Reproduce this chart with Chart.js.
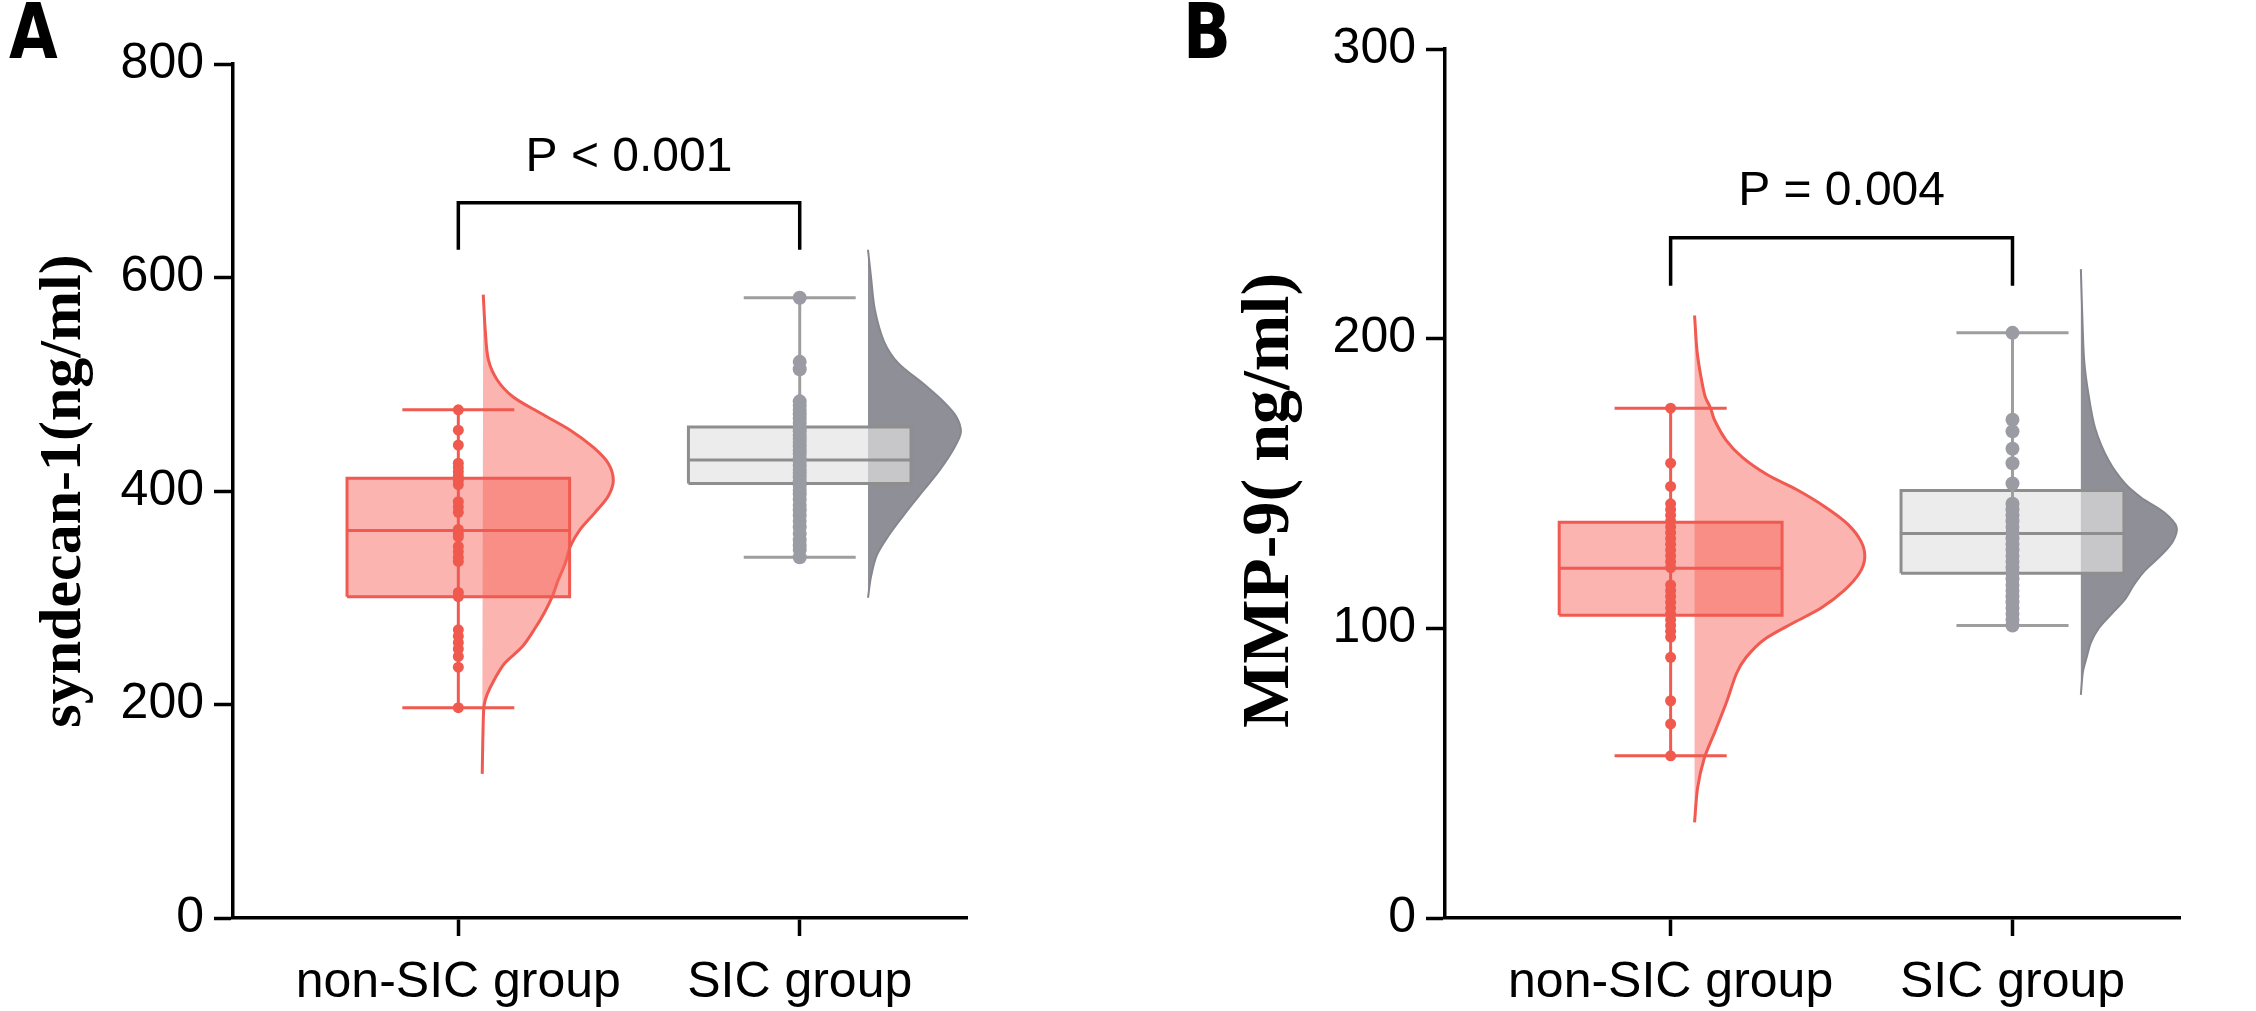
<!DOCTYPE html>
<html><head><meta charset="utf-8">
<script src="https://cdn.jsdelivr.net/npm/chart.js@4.4.1/dist/chart.umd.min.js"></script>
<style>
html,body{margin:0;padding:0;background:#fff;}
#wrap{position:relative;width:2256px;height:1011px;overflow:hidden;background:#fff;}
.panel{position:absolute;top:0;width:1128px;height:1011px;}
</style></head><body>
<div id="wrap">
<div class="panel" style="left:0"><canvas id="cA" width="1128" height="1011"></canvas></div>
<div class="panel" style="left:1128px"><canvas id="cB" width="1128" height="1011"></canvas></div>
</div>
<script>
// ---------- data ----------
const categories = ['non-SIC group', 'SIC group'];

// Panel A : syndecan-1
const aTicks = [0, 200, 400, 600, 800];
const aNonSicPoints = [476, 457, 443, 426, 422, 418, 414, 410, 406, 390, 385, 380, 364, 360, 357, 348, 343, 338, 334, 305, 301, 270, 264, 258, 252, 245, 235, 197];
const aSicPoints = [581, 521, 514, 484, 480, 476, 472, 468, 464, 460, 456, 452, 449, 446, 442, 438, 435, 431, 428, 424, 420, 417, 413, 409, 405, 401, 397, 392, 387, 382, 377, 372, 366, 360, 354, 349, 345, 338];
// [lower whisker, Q1, median, Q3, upper whisker]
const aNonSicBox = [197, 301, 363, 412, 476];
const aSicBox = [338, 407, 429, 460, 581];
// half-violin density outline: value and width
const aNonSicViolinY = [135, 185, 200, 210, 223, 238, 254, 270, 286, 301, 317, 332, 348, 364, 380, 395, 410, 426, 441, 457, 473, 488, 504, 523, 550, 584];
const aNonSicViolinW = [0, .003, .006, .015, .035, .064, .117, .152, .182, .205, .223, .243, .258, .287, .331, .369, .384, .369, .325, .258, .170, .091, .044, .018, .009, .003];
const aSicViolinY = [300, 320, 340, 360, 380, 400, 420, 440, 455, 470, 485, 500, 520, 540, 570, 600, 626];
const aSicViolinW = [0, .009, .026, .064, .111, .161, .211, .252, .272, .258, .217, .164, .088, .047, .020, .009, 0];

// Panel B : MMP-9
const bTicks = [0, 100, 200, 300];
const bNonSicPoints = [176, 157, 149, 143, 141, 139, 137, 135, 133, 131, 129, 127, 125, 123, 121, 115, 113, 111, 109, 107, 105, 103, 101, 99, 97, 90, 75, 67, 56];
const bSicPoints = [202, 172, 168, 162, 157, 150, 143, 141, 139, 137, 135, 133, 131, 129, 127, 125, 123, 121, 119, 117, 115, 113, 111, 109, 107, 105, 103, 101];
const bNonSicBox = [56, 104.5, 120.7, 136.6, 176];
const bSicBox = [101, 119, 132.7, 147.6, 202];
const bNonSicViolinY = [33, 45, 55, 65, 75, 84.5, 90, 96, 102, 107, 113, 119, 124.5, 130, 136, 142, 148, 153, 159, 165, 172, 176, 180, 188, 196, 208];
const bNonSicViolinW = [0, .009, .028, .062, .095, .123, .151, .202, .291, .370, .437, .482, .498, .487, .448, .381, .297, .213, .140, .092, .058, .047, .031, .017, .007, 0];
const bSicViolinY = [77, 85, 90, 95, 100, 105, 110, 115, 120, 125, 130, 135, 140, 145, 150, 158, 169, 181, 192, 205, 224];
const bSicViolinW = [0, .006, .017, .029, .052, .090, .129, .155, .188, .233, .269, .280, .244, .178, .129, .081, .042, .022, .010, .005, 0];

// significance annotations: bracket level, bracket foot, text baseline level
const aSignif = {text: 'P < 0.001', levels: [670, 626, 700]};
const bSignif = {text: 'P = 0.004', levels: [234.8, 218.3, 246]};

// ---------- styles ----------
const RED = {line: '#F05A50', boxFill: 'rgba(247,105,95,0.5)', dot: '#F05A4E', whisker: '#F05A50',
             vLine: '#F05A50', vFill: 'rgba(247,105,95,0.5)', vLineW: 3, dotR: 5.5, violinOffset: 0.07};
const GRAY = {line: '#8E8E8E', boxFill: 'rgba(227,227,227,0.67)', dot: '#9B9BA3', whisker: '#9E9E9E',
              vLine: '#86868E', vFill: '#8F8F98', vLineW: 2, dotR: 7, violinOffset: 0.2};
const BOX_HALF = 0.326, CAP_HALF = 0.164;
const TICK_FONT = {family: '"Liberation Sans", Arial, Helvetica, sans-serif', size: 50};

function groupDatasets(pos, box, pts, vy, vw, st, violinOffset) {
  const [lo, q1, med, q3, hi] = box;
  const base = pos + violinOffset;
  const ds = [];
  ds.push({ // half violin
    data: vy.map((y, i) => ({x: base + vw[i], y})),
    showLine: true, fill: 'shape', backgroundColor: st.vFill, borderColor: st.vLine, borderWidth: st.vLineW,
    pointRadius: 0, tension: 0.3, order: 4
  });
  ds.push({ // box
    data: [{x: pos - BOX_HALF, y: q1}, {x: pos + BOX_HALF, y: q1}, {x: pos + BOX_HALF, y: q3}, {x: pos - BOX_HALF, y: q3}, {x: pos - BOX_HALF, y: q1}],
    showLine: true, fill: 'shape', backgroundColor: st.boxFill, borderColor: st.line, borderWidth: 3,
    pointRadius: 0, tension: 0, order: 3, borderJoinStyle: 'miter'
  });
  ds.push({ // median
    data: [{x: pos - BOX_HALF, y: med}, {x: pos + BOX_HALF, y: med}],
    showLine: true, fill: false, borderColor: st.line, borderWidth: 3, pointRadius: 0, order: 2
  });
  ds.push({ // whisker stem
    data: [{x: pos, y: lo}, {x: pos, y: hi}],
    showLine: true, fill: false, borderColor: st.whisker, borderWidth: 3, pointRadius: 0, order: 1
  });
  [lo, hi].forEach(v => ds.push({ // caps
    data: [{x: pos - CAP_HALF, y: v}, {x: pos + CAP_HALF, y: v}],
    showLine: true, fill: false, borderColor: st.whisker, borderWidth: 3, pointRadius: 0, order: 1
  }));
  ds.push({ // individual points
    data: pts.map(v => ({x: pos, y: v})),
    showLine: false, pointRadius: st.dotR, pointBackgroundColor: st.dot, pointBorderWidth: 0, order: 0
  });
  return ds;
}

const annotPlugin = {
  id: 'annot',
  afterDraw(chart, args, o) {
    const {ctx} = chart;
    const x = chart.scales.x, y = chart.scales.y;
    const [lvl, foot, txt] = o.signif.levels;
    const x1 = x.getPixelForValue(1), x2 = x.getPixelForValue(2);
    const yl = y.getPixelForValue(lvl), yf = y.getPixelForValue(foot);
    ctx.save();
    ctx.strokeStyle = '#000'; ctx.lineWidth = 3.5; ctx.lineJoin = 'miter'; ctx.lineCap = 'butt';
    ctx.beginPath(); ctx.moveTo(x1, yf); ctx.lineTo(x1, yl); ctx.lineTo(x2, yl); ctx.lineTo(x2, yf); ctx.stroke();
    ctx.fillStyle = '#000';
    ctx.font = '48px "Liberation Sans", Arial, sans-serif';
    ctx.textAlign = 'center'; ctx.textBaseline = 'alphabetic';
    ctx.fillText(o.signif.text, (x1 + x2) / 2, y.getPixelForValue(txt));
    ctx.translate(o.letterX, o.letterY);
    ctx.scale(0.92, 1);
    ctx.font = 'bold 76px "Liberation Sans Narrow", "DejaVu Sans Condensed", Arial, sans-serif';
    ctx.textAlign = 'left';
    ctx.fillText(o.letter, 0, 0);
    ctx.restore();
  }
};

function makeChart(id, cfg) {
  const datasets = [
    ...groupDatasets(1, cfg.box1, cfg.pts1, cfg.vy1, cfg.vw1, RED, RED.violinOffset),
    ...groupDatasets(2, cfg.box2, cfg.pts2, cfg.vy2, cfg.vw2, GRAY, GRAY.violinOffset)
  ];
  return new Chart(document.getElementById(id), {
    type: 'scatter',
    data: {datasets},
    plugins: [annotPlugin],
    options: {
      responsive: false, animation: false, devicePixelRatio: 1,
      layout: {padding: {top: cfg.top, left: 0, right: cfg.right, bottom: 0}},
      plugins: {legend: {display: false}, tooltip: {enabled: false},
        annot: {signif: cfg.signif, letter: cfg.letter, letterX: cfg.letterX, letterY: 58}},
      scales: {
        x: {
          type: 'linear', min: 0.34, max: 2.49,
          afterBuildTicks: s => { s.ticks = categories.map((c, i) => ({value: i + 1})); },
          afterFit: s => { s.height = 93; },
          ticks: {callback: v => categories[Math.round(v) - 1] || '', font: TICK_FONT, color: '#000', padding: 17, maxRotation: 0, autoSkip: false},
          grid: {display: true, drawOnChartArea: false, drawTicks: true, tickLength: 18, tickWidth: 3.5, tickColor: '#000'},
          border: {display: true, color: '#000', width: 3.5}
        },
        y: {
          type: 'linear', min: 0, max: cfg.ymax,
          afterBuildTicks: s => { s.ticks = cfg.ticks.map(v => ({value: v})); },
          afterFit: s => { s.width = cfg.yWidth; },
          ticks: {font: TICK_FONT, color: '#000', padding: 10},
          grid: {display: true, drawOnChartArea: false, drawTicks: true, tickLength: 19, tickWidth: 3.5, tickColor: '#000'},
          border: {display: true, color: '#000', width: 3.5},
          title: {display: true, text: cfg.title, color: '#000',
            font: {family: '"Liberation Serif", "Times New Roman", serif', size: cfg.titleSize, weight: 'bold'},
            padding: {top: cfg.titlePad, bottom: 0}}
        }
      }
    }
  });
}

makeChart('cA', {
  box1: aNonSicBox, pts1: aNonSicPoints, vy1: aNonSicViolinY, vw1: aNonSicViolinW,
  box2: aSicBox, pts2: aSicPoints, vy2: aSicViolinY, vw2: aSicViolinW,
  ymax: 800, ticks: aTicks, title: 'syndecan-1(ng/ml)', titleSize: 60, titlePad: 28,
  signif: aSignif, letter: 'A', letterX: 9, top: 64, right: 161, yWidth: 233
});
makeChart('cB', {
  box1: bNonSicBox, pts1: bNonSicPoints, vy1: bNonSicViolinY, vw1: bNonSicViolinW,
  box2: bSicBox, pts2: bSicPoints, vy2: bSicViolinY, vw2: bSicViolinW,
  ymax: 300, ticks: bTicks, title: 'MMP-9( ng/ml)\u2002', titleSize: 68, titlePad: 102,
  signif: bSignif, letter: 'B', letterX: 55, top: 49, right: 76, yWidth: 317
});
</script>
</body></html>
